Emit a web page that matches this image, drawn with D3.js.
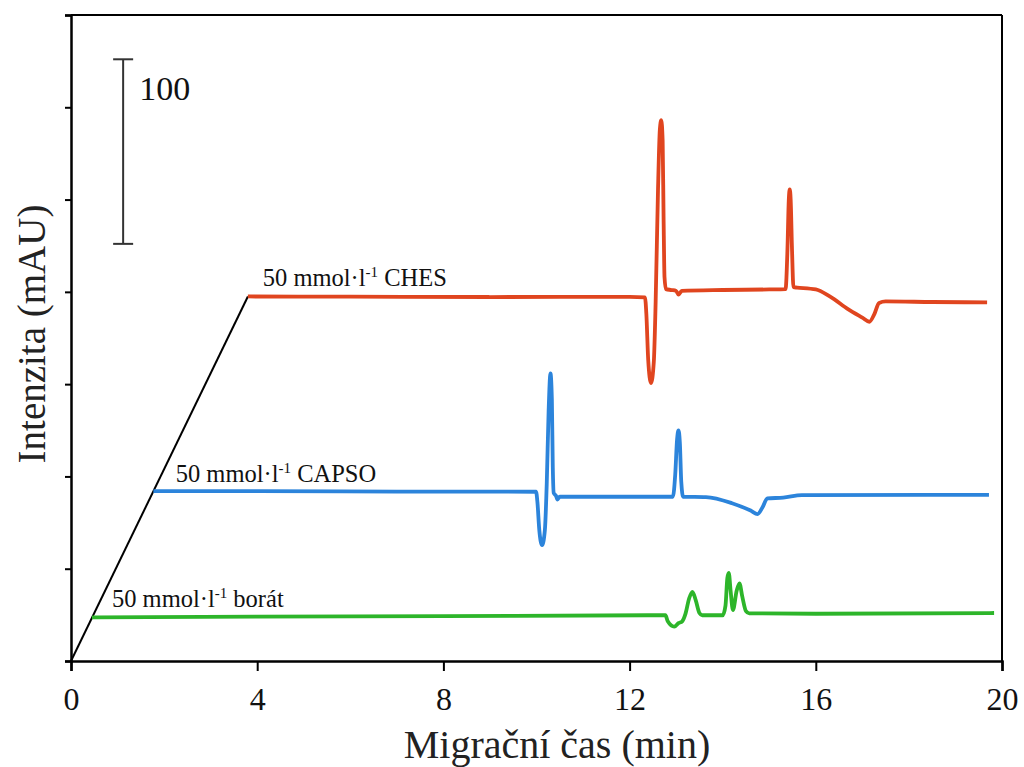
<!DOCTYPE html>
<html>
<head>
<meta charset="utf-8">
<script src="https://cdn.jsdelivr.net/npm/d3@7"></script>
<style>
  html, body { margin: 0; padding: 0; background: #fff; }
  svg { display: block; font-family: "Liberation Serif", "Times New Roman", serif; }
</style>
</head>
<body>
<svg id="chart" width="1024" height="767"></svg>
<script>
// ---- data (time in min, intensity in mAU incl. vertical offset) ----
const xTicks = [0, 4, 8, 12, 16, 20];
const yTicks = [0, 50, 100, 150, 200, 250, 300, 350];

const chesTrace = [
  [3.8,197.5],[6,197.4],[9,197.2],[12.0,197.3],[12.33,197.0],[12.36,188],[12.40,163],[12.46,150.6],
  [12.52,162],[12.56,195],[12.61,255],[12.65,288],[12.68,293],[12.71,282],[12.73,240],[12.75,208],
  [12.78,201.5],[12.9,201],[13.0,200.5],[13.05,198.5],[13.12,200.5],[14,201],[15,201.3],[15.35,201.5],
  [15.39,222],[15.42,250],[15.44,255.5],[15.46,250],[15.49,222],[15.52,202.5],[15.6,202.3],[16.0,201.3],
  [16.3,197.5],[16.7,190.5],[17.0,186],[17.15,183.8],[17.25,187.5],[17.36,194],[17.5,194.8],[18.5,194.5],[19.68,194.3]
];
const capsoTrace = [
  [1.77,92],[4,92],[7,91.8],[9.99,91.7],[10.02,86],[10.06,71],[10.12,62.8],[10.18,71],[10.22,96],
  [10.26,135],[10.30,155.8],[10.33,142],[10.35,105],[10.37,91],[10.42,89.5],[10.45,87.5],[10.5,89],
  [12,89],[12.93,89],[12.98,101],[13.02,120],[13.05,125],[13.08,118],[13.11,97],[13.15,89],
  [13.64,88.8],[14.2,85.5],[14.6,81.5],[14.75,79.6],[14.85,83],[14.96,88.1],[15.3,88.5],[15.7,89.9],[19.72,90]
];
const boratTrace = [
  [0.45,23.6],[4,24],[8,24.3],[12.77,24.8],[12.82,21.5],[12.96,18.6],[13.05,20.5],[13.13,21.5],
  [13.2,25.5],[13.28,34],[13.35,37.5],[13.42,33],[13.5,26],[13.56,24.8],[14.0,24.8],[14.06,30],
  [14.1,45],[14.13,47.8],[14.17,38],[14.22,27.6],[14.3,38],[14.36,42.1],[14.42,35],[14.5,27],
  [14.57,25.8],[16,25.6],[19.83,26]
];
const stackLine = [[0,0],[3.8,197.5]];

const seriesNames = ["50 mmol·l", "50 mmol·l", "50 mmol·l"];
const seriesSuffix = [" CHES", " CAPSO", " borát"];
const labelAnchors = [[4.12, 203], [2.25, 97], [0.88, 29]]; // time, mAU of label baseline
const colors = ["#e0451f", "#2c84db", "#2db52a"];
const scaleBarValue = 100;

// ---- layout ----
const svg = d3.select("#chart");
const margin = { left: 71, top: 15, right: 22, bottom: 106 };
const W = 1024, H = 767;
const x = d3.scaleLinear().domain([0, 20]).range([margin.left, W - margin.right]);
const y = d3.scaleLinear().domain([0, 350]).range([H - margin.bottom, margin.top]);

// frame top and right
svg.append("line").attr("x1", x(0)).attr("x2", x(20)).attr("y1", y(350)).attr("y2", y(350))
  .attr("stroke", "#000").attr("stroke-width", 2);
svg.append("line").attr("x1", x(20)).attr("x2", x(20)).attr("y1", y(350)).attr("y2", y(0))
  .attr("stroke", "#000").attr("stroke-width", 2);

// x axis
const gx = svg.append("g").attr("transform", `translate(0,${y(0)})`)
  .call(d3.axisBottom(x).tickValues(xTicks).tickSize(10).tickPadding(16).tickFormat(d3.format("d")));
gx.select(".domain").attr("stroke-width", 2.5);
gx.selectAll(".tick line").attr("stroke-width", 2);
gx.selectAll(".tick text").attr("font-size", 32).attr("font-family", "Liberation Serif").attr("fill", "#111");

// y axis
const gy = svg.append("g").attr("transform", `translate(${x(0)},0)`)
  .call(d3.axisLeft(y).tickValues(yTicks).tickSize(6).tickFormat(""));
gy.select(".domain").attr("stroke-width", 2.5);
gy.selectAll(".tick line").attr("stroke-width", 2);

// axis titles
svg.append("text").attr("x", 557).attr("y", 758).attr("text-anchor", "middle")
  .attr("font-size", 40).attr("fill", "#222").text("Migrační čas (min)");
svg.append("text").attr("transform", `translate(45,334) rotate(-90)`).attr("text-anchor", "middle")
  .attr("font-size", 39).attr("fill", "#222").text("Intenzita (mAU)");

// stacking diagonal
const line = d3.line().x(d => x(d[0])).y(d => y(d[1]));
svg.append("path").datum(stackLine).attr("d", line).attr("fill", "none")
  .attr("stroke", "#000").attr("stroke-width", 2);

// traces
const curve = d3.line().x(d => x(d[0])).y(d => y(d[1])).curve(d3.curveMonotoneX);
[chesTrace, capsoTrace, boratTrace].forEach((tr, i) => {
  svg.append("path").datum(tr).attr("d", curve).attr("fill", "none")
    .attr("stroke", colors[i]).attr("stroke-width", 3.8).attr("stroke-linejoin", "round");
});

// labels
labelAnchors.forEach((a, i) => {
  const t = svg.append("text").attr("x", x(a[0])).attr("y", y(a[1]))
    .attr("font-size", 24.5).attr("fill", "#111");
  t.append("tspan").text(seriesNames[i]);
  t.append("tspan").attr("dy", -9).attr("font-size", 15).text("-1");
  t.append("tspan").attr("dy", 9).text(seriesSuffix[i]);
});

// scale bar
const sbX = x(1.12), sbBottom = y(226), sbTop = y(226 + scaleBarValue);
svg.append("line").attr("x1", sbX).attr("x2", sbX).attr("y1", sbTop).attr("y2", sbBottom)
  .attr("stroke", "#333").attr("stroke-width", 2);
[sbTop, sbBottom].forEach(yy => svg.append("line").attr("x1", sbX - 10).attr("x2", sbX + 10)
  .attr("y1", yy).attr("y2", yy).attr("stroke", "#333").attr("stroke-width", 2));
svg.append("text").attr("x", sbX + 16).attr("y", sbTop + 41).attr("font-size", 34)
  .attr("fill", "#111").text(String(scaleBarValue));
</script>
</body>
</html>
